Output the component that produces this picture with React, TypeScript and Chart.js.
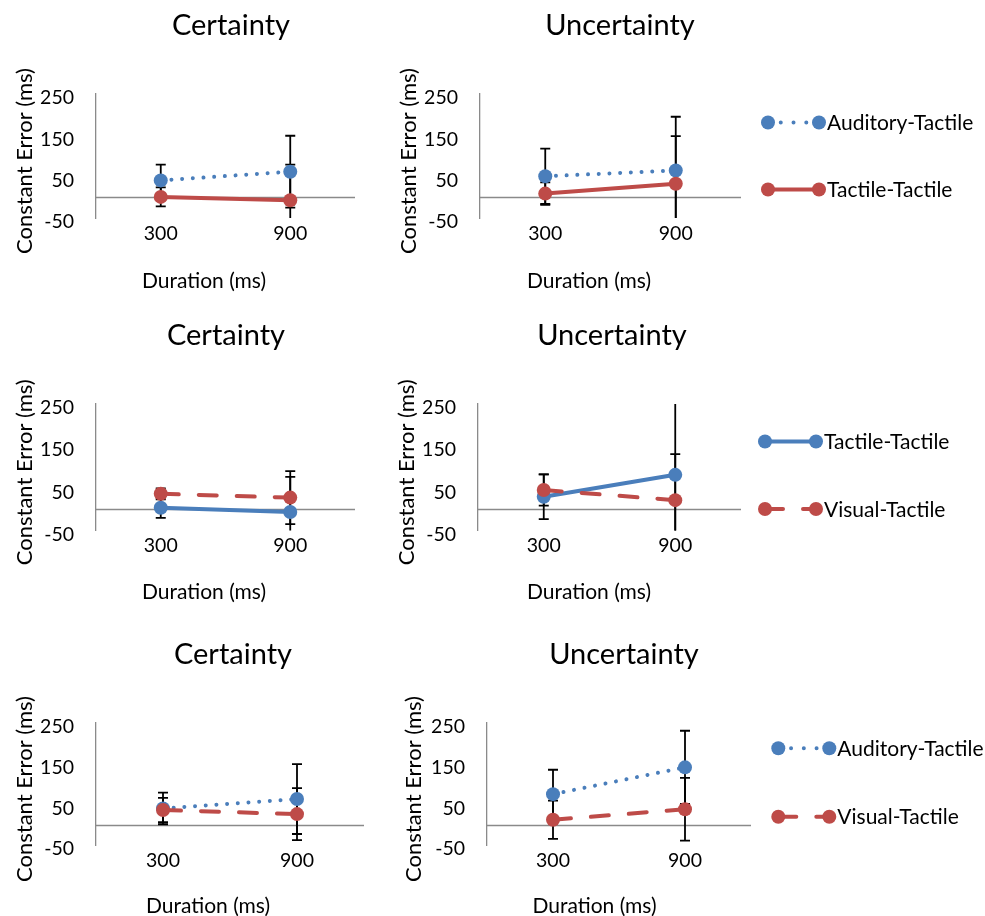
import React, { useEffect, useRef } from "react";
import { Chart, registerables } from "chart.js";

Chart.register(...registerables);

// ---------- data ----------
const durations = ["300", "900"];
const yTickValues = [-50, 50, 150, 250];

// Row 1 – Certainty
const p1AuditoryTactile = [41, 62];
const p1AuditoryTactileErr = [38, 87];
const p1TactileTactile = [1, -7];
const p1TactileTactileErr = [23, 86];
// Row 1 – Uncertainty
const p2AuditoryTactile = [51, 65];
const p2AuditoryTactileErr = [67, 130];
const p2TactileTactile = [9, 33];
const p2TactileTactileErr = [27, 115];
// Row 2 – Certainty
const p3TactileTactile = [4, -6];
const p3TactileTactileErr = [24, 83];
const p3VisualTactile = [37, 28];
const p3VisualTactileErr = [13, 63];
// Row 2 – Uncertainty
const p4TactileTactile = [30, 82];
const p4TactileTactileErr = [53, 175];
const p4VisualTactile = [46, 22];
const p4VisualTactileErr = [37, 109];
// Row 3 – Certainty
const p5AuditoryTactile = [40, 63];
const p5AuditoryTactileErr = [39, 86];
const p5VisualTactile = [36, 26];
const p5VisualTactileErr = [30, 64];
// Row 3 – Uncertainty
const p6AuditoryTactile = [75, 141];
const p6AuditoryTactileErr = [60, 90];
const p6VisualTactile = [12, 38];
const p6VisualTactileErr = [47, 77];

// ---------- styles ----------
const FONT = "Lato, 'Open Sans', sans-serif";
const BLUE = "#4A7EBB";
const RED = "#BE4B48";
const AXIS_GREY = "#8A8A8A";
const TICK_SIZE = 19.5;
const X_TITLE_SIZE = 21;
const Y_TITLE_SIZE = 22;
const TITLE_SIZE = 29;
const LEGEND_SIZE = 21;
const POINT_R = 7;

type LineStyle = "dotted" | "dashed" | "solid";
const DASHES: Record<LineStyle, number[]> = {
  dotted: [0.01, 10.7],
  dashed: [18, 20],
  solid: [],
};
const LEGEND_DASHES: Record<LineStyle, number[]> = {
  dotted: [0.01, 12.75],
  dashed: [18, 20],
  solid: [],
};

type Series = {
  label: string;
  data: number[];
  err: number[];
  color: string;
  style: LineStyle;
};

type PanelCfg = {
  key: string;
  left: number;
  top: number;
  width: number;
  height: number;
  area: { l: number; t: number; r: number; b: number };
  title: string;
  titleDx: number;
  xTitleDx: number;
  xTitleDy: number;
  yTitleDx: number;
  series: Series[];
  legend?: { dx: number; ys: number[] };
};

const Y_AXIS_W = 60;
const X_AXIS_H = 30;

const panels: PanelCfg[] = [
  {
    key: "p1", left: 0, top: 0, width: 380, height: 305,
    area: { l: 96, t: 94, r: 355, b: 218 },
    title: "Certainty", titleDx: 135, xTitleDx: 108, xTitleDy: 70, yTitleDx: -64.5,
    series: [
      { label: "Auditory-Tactile", data: p1AuditoryTactile, err: p1AuditoryTactileErr, color: BLUE, style: "dotted" },
      { label: "Tactile-Tactile", data: p1TactileTactile, err: p1TactileTactileErr, color: RED, style: "solid" },
    ],
  },
  {
    key: "p2", left: 380, top: 0, width: 605, height: 305,
    area: { l: 480, t: 94, r: 741, b: 218 },
    title: "Uncertainty", titleDx: 140, xTitleDx: 109, xTitleDy: 70, yTitleDx: -64.5,
    series: [
      { label: "Auditory-Tactile", data: p2AuditoryTactile, err: p2AuditoryTactileErr, color: BLUE, style: "dotted" },
      { label: "Tactile-Tactile", data: p2TactileTactile, err: p2TactileTactileErr, color: RED, style: "solid" },
    ],
    legend: { dx: 27, ys: [28.5, 95.5] },
  },
  {
    key: "p3", left: 0, top: 305, width: 380, height: 313,
    area: { l: 96, t: 404, r: 355, b: 530.5 },
    title: "Certainty", titleDx: 130, xTitleDx: 108, xTitleDy: 68.5, yTitleDx: -64.5,
    series: [
      { label: "Tactile-Tactile", data: p3TactileTactile, err: p3TactileTactileErr, color: BLUE, style: "solid" },
      { label: "Visual-Tactile", data: p3VisualTactile, err: p3VisualTactileErr, color: RED, style: "dashed" },
    ],
  },
  {
    key: "p4", left: 380, top: 305, width: 605, height: 313,
    area: { l: 478, t: 404, r: 741, b: 530.5 },
    title: "Uncertainty", titleDx: 134, xTitleDx: 111, xTitleDy: 68.5, yTitleDx: -64.5,
    series: [
      { label: "Tactile-Tactile", data: p4TactileTactile, err: p4TactileTactileErr, color: BLUE, style: "solid" },
      { label: "Visual-Tactile", data: p4VisualTactile, err: p4VisualTactileErr, color: RED, style: "dashed" },
    ],
    legend: { dx: 24, ys: [37.5, 105] },
  },
  {
    key: "p5", left: 0, top: 618, width: 380, height: 298,
    area: { l: 96, t: 723, r: 364, b: 845 },
    title: "Certainty", titleDx: 137, xTitleDx: 112, xTitleDy: 68, yTitleDx: -64.5,
    series: [
      { label: "Auditory-Tactile", data: p5AuditoryTactile, err: p5AuditoryTactileErr, color: BLUE, style: "dotted" },
      { label: "Visual-Tactile", data: p5VisualTactile, err: p5VisualTactileErr, color: RED, style: "dashed" },
    ],
  },
  {
    key: "p6", left: 380, top: 618, width: 605, height: 298,
    area: { l: 487, t: 723, r: 751, b: 845 },
    title: "Uncertainty", titleDx: 137, xTitleDx: 107.5, xTitleDy: 68, yTitleDx: -66,
    series: [
      { label: "Auditory-Tactile", data: p6AuditoryTactile, err: p6AuditoryTactileErr, color: BLUE, style: "dotted" },
      { label: "Visual-Tactile", data: p6VisualTactile, err: p6VisualTactileErr, color: RED, style: "dashed" },
    ],
    legend: { dx: 27.3, ys: [25.3, 93.7] },
  },
];

function buildConfig(p: PanelCfg): any {
  const padding = {
    left: p.area.l - p.left - Y_AXIS_W,
    top: p.area.t - p.top,
    right: p.left + p.width - p.area.r,
    bottom: p.top + p.height - p.area.b - X_AXIS_H,
  };

  const datasets = p.series.map((s, i) => ({
    label: s.label,
    data: s.data,
    borderColor: s.color,
    backgroundColor: s.color,
    borderWidth: 4,
    borderDash: DASHES[s.style],
    borderCapStyle: "round",
    borderJoinStyle: "round",
    pointRadius: POINT_R,
    pointHoverRadius: POINT_R,
    pointBackgroundColor: s.color,
    pointBorderColor: s.color,
    pointBorderWidth: 0,
    tension: 0,
    order: p.series.length - i,
  }));

  const backgroundPlugin = {
    id: "zeroAndErrors",
    beforeDatasetsDraw(chart: any) {
      const { ctx, chartArea: a } = chart;
      const y = chart.scales.y;
      ctx.save();
      // horizontal axis crossing at zero
      const y0 = Math.round(y.getPixelForValue(0)) + 0.5;
      ctx.strokeStyle = AXIS_GREY;
      ctx.lineWidth = 1.3;
      ctx.beginPath();
      ctx.moveTo(a.left, y0);
      ctx.lineTo(a.right, y0);
      ctx.stroke();
      // error bars, clipped to the plot area
      ctx.beginPath();
      ctx.rect(a.left, a.top, a.right - a.left, a.bottom - a.top);
      ctx.clip();
      ctx.strokeStyle = "#000";
      ctx.lineWidth = 1.8;
      p.series.forEach((s, i) => {
        const meta = chart.getDatasetMeta(i);
        meta.data.forEach((pt: any, j: number) => {
          const v = s.data[j];
          const e = s.err[j];
          const x = pt.x;
          const yt = y.getPixelForValue(v + e);
          const yb = y.getPixelForValue(v - e);
          ctx.beginPath();
          ctx.moveTo(x, yt);
          ctx.lineTo(x, yb);
          ctx.moveTo(x - 5, yt);
          ctx.lineTo(x + 5, yt);
          ctx.moveTo(x - 5, yb);
          ctx.lineTo(x + 5, yb);
          ctx.stroke();
        });
      });
      ctx.restore();
    },
  };

  const textPlugin = {
    id: "panelText",
    afterDraw(chart: any) {
      const { ctx, chartArea: a } = chart;
      ctx.save();
      ctx.fillStyle = "#000";
      ctx.textAlign = "center";
      ctx.textBaseline = "alphabetic";
      ctx.font = `${TITLE_SIZE}px ${FONT}`;
      ctx.fillText(p.title, a.left + p.titleDx, a.top - 59);
      ctx.font = `${X_TITLE_SIZE}px ${FONT}`;
      ctx.fillText("Duration (ms)", a.left + p.xTitleDx, a.bottom + p.xTitleDy);
      ctx.font = `${Y_TITLE_SIZE}px ${FONT}`;
      ctx.translate(a.left + p.yTitleDx, (a.top + a.bottom) / 2 + 5);
      ctx.rotate(-Math.PI / 2);
      ctx.fillText("Constant Error (ms)", 0, 0);
      ctx.restore();
    },
  };

  const legendPlugin = {
    id: "excelLegend",
    afterDraw(chart: any) {
      if (!p.legend) return;
      const { ctx, chartArea: a } = chart;
      p.series.forEach((s, i) => {
        const yy = a.top + p.legend!.ys[i];
        const x1 = a.right + p.legend!.dx;
        const x2 = x1 + 51;
        ctx.save();
        ctx.strokeStyle = s.color;
        ctx.lineWidth = 4;
        ctx.lineCap = "round";
        ctx.setLineDash(LEGEND_DASHES[s.style]);
        ctx.beginPath();
        ctx.moveTo(x1, yy);
        ctx.lineTo(x2, yy);
        ctx.stroke();
        ctx.setLineDash([]);
        ctx.fillStyle = s.color;
        [x1, x2].forEach((x) => {
          ctx.beginPath();
          ctx.arc(x, yy, POINT_R, 0, Math.PI * 2);
          ctx.fill();
        });
        ctx.fillStyle = "#000";
        ctx.font = `${LEGEND_SIZE}px ${FONT}`;
        ctx.textAlign = "left";
        ctx.textBaseline = "middle";
        ctx.fillText(s.label, x2 + 8, yy + 1);
        ctx.restore();
      });
    },
  };

  return {
    type: "line",
    data: { labels: durations, datasets },
    options: {
      responsive: false,
      maintainAspectRatio: false,
      animation: false,
      devicePixelRatio: 1,
      events: [],
      layout: { padding },
      plugins: {
        legend: { display: false },
        tooltip: { enabled: false },
        title: { display: false },
      },
      scales: {
        x: {
          type: "category",
          offset: true,
          grid: { display: false, drawTicks: false },
          border: { display: false },
          ticks: {
            color: "#000",
            font: { family: FONT, size: TICK_SIZE },
            padding: 4,
            maxRotation: 0,
            autoSkip: false,
          },
          afterFit: (s: any) => {
            s.height = X_AXIS_H;
          },
        },
        y: {
          type: "linear",
          min: -50,
          max: 250,
          afterBuildTicks: (s: any) => {
            s.ticks = yTickValues.map((v) => ({ value: v }));
          },
          grid: { display: false, drawTicks: false },
          border: { display: true, color: AXIS_GREY, width: 1.3 },
          ticks: {
            color: "#000",
            font: { family: FONT, size: TICK_SIZE },
            padding: 22,
            labelOffset: 4,
          },
          afterFit: (s: any) => {
            s.width = Y_AXIS_W;
          },
        },
      },
    },
    plugins: [backgroundPlugin, textPlugin, legendPlugin],
  };
}

function Panel({ cfg }: { cfg: PanelCfg }) {
  const ref = useRef<HTMLCanvasElement>(null);
  useEffect(() => {
    const canvas = ref.current;
    if (!canvas) return;
    const chart = new Chart(canvas, buildConfig(cfg));
    return () => chart.destroy();
  }, [cfg]);
  return (
    <canvas
      ref={ref}
      width={cfg.width}
      height={cfg.height}
      style={{
        position: "absolute",
        left: cfg.left,
        top: cfg.top,
        width: cfg.width,
        height: cfg.height,
      }}
    />
  );
}

export default function App() {
  return (
    <div
      style={{
        position: "absolute",
        left: 0,
        top: 0,
        width: 985,
        height: 916,
        background: "#fff",
        overflow: "hidden",
      }}
    >
      {panels.map((p) => (
        <Panel key={p.key} cfg={p} />
      ))}
    </div>
  );
}
